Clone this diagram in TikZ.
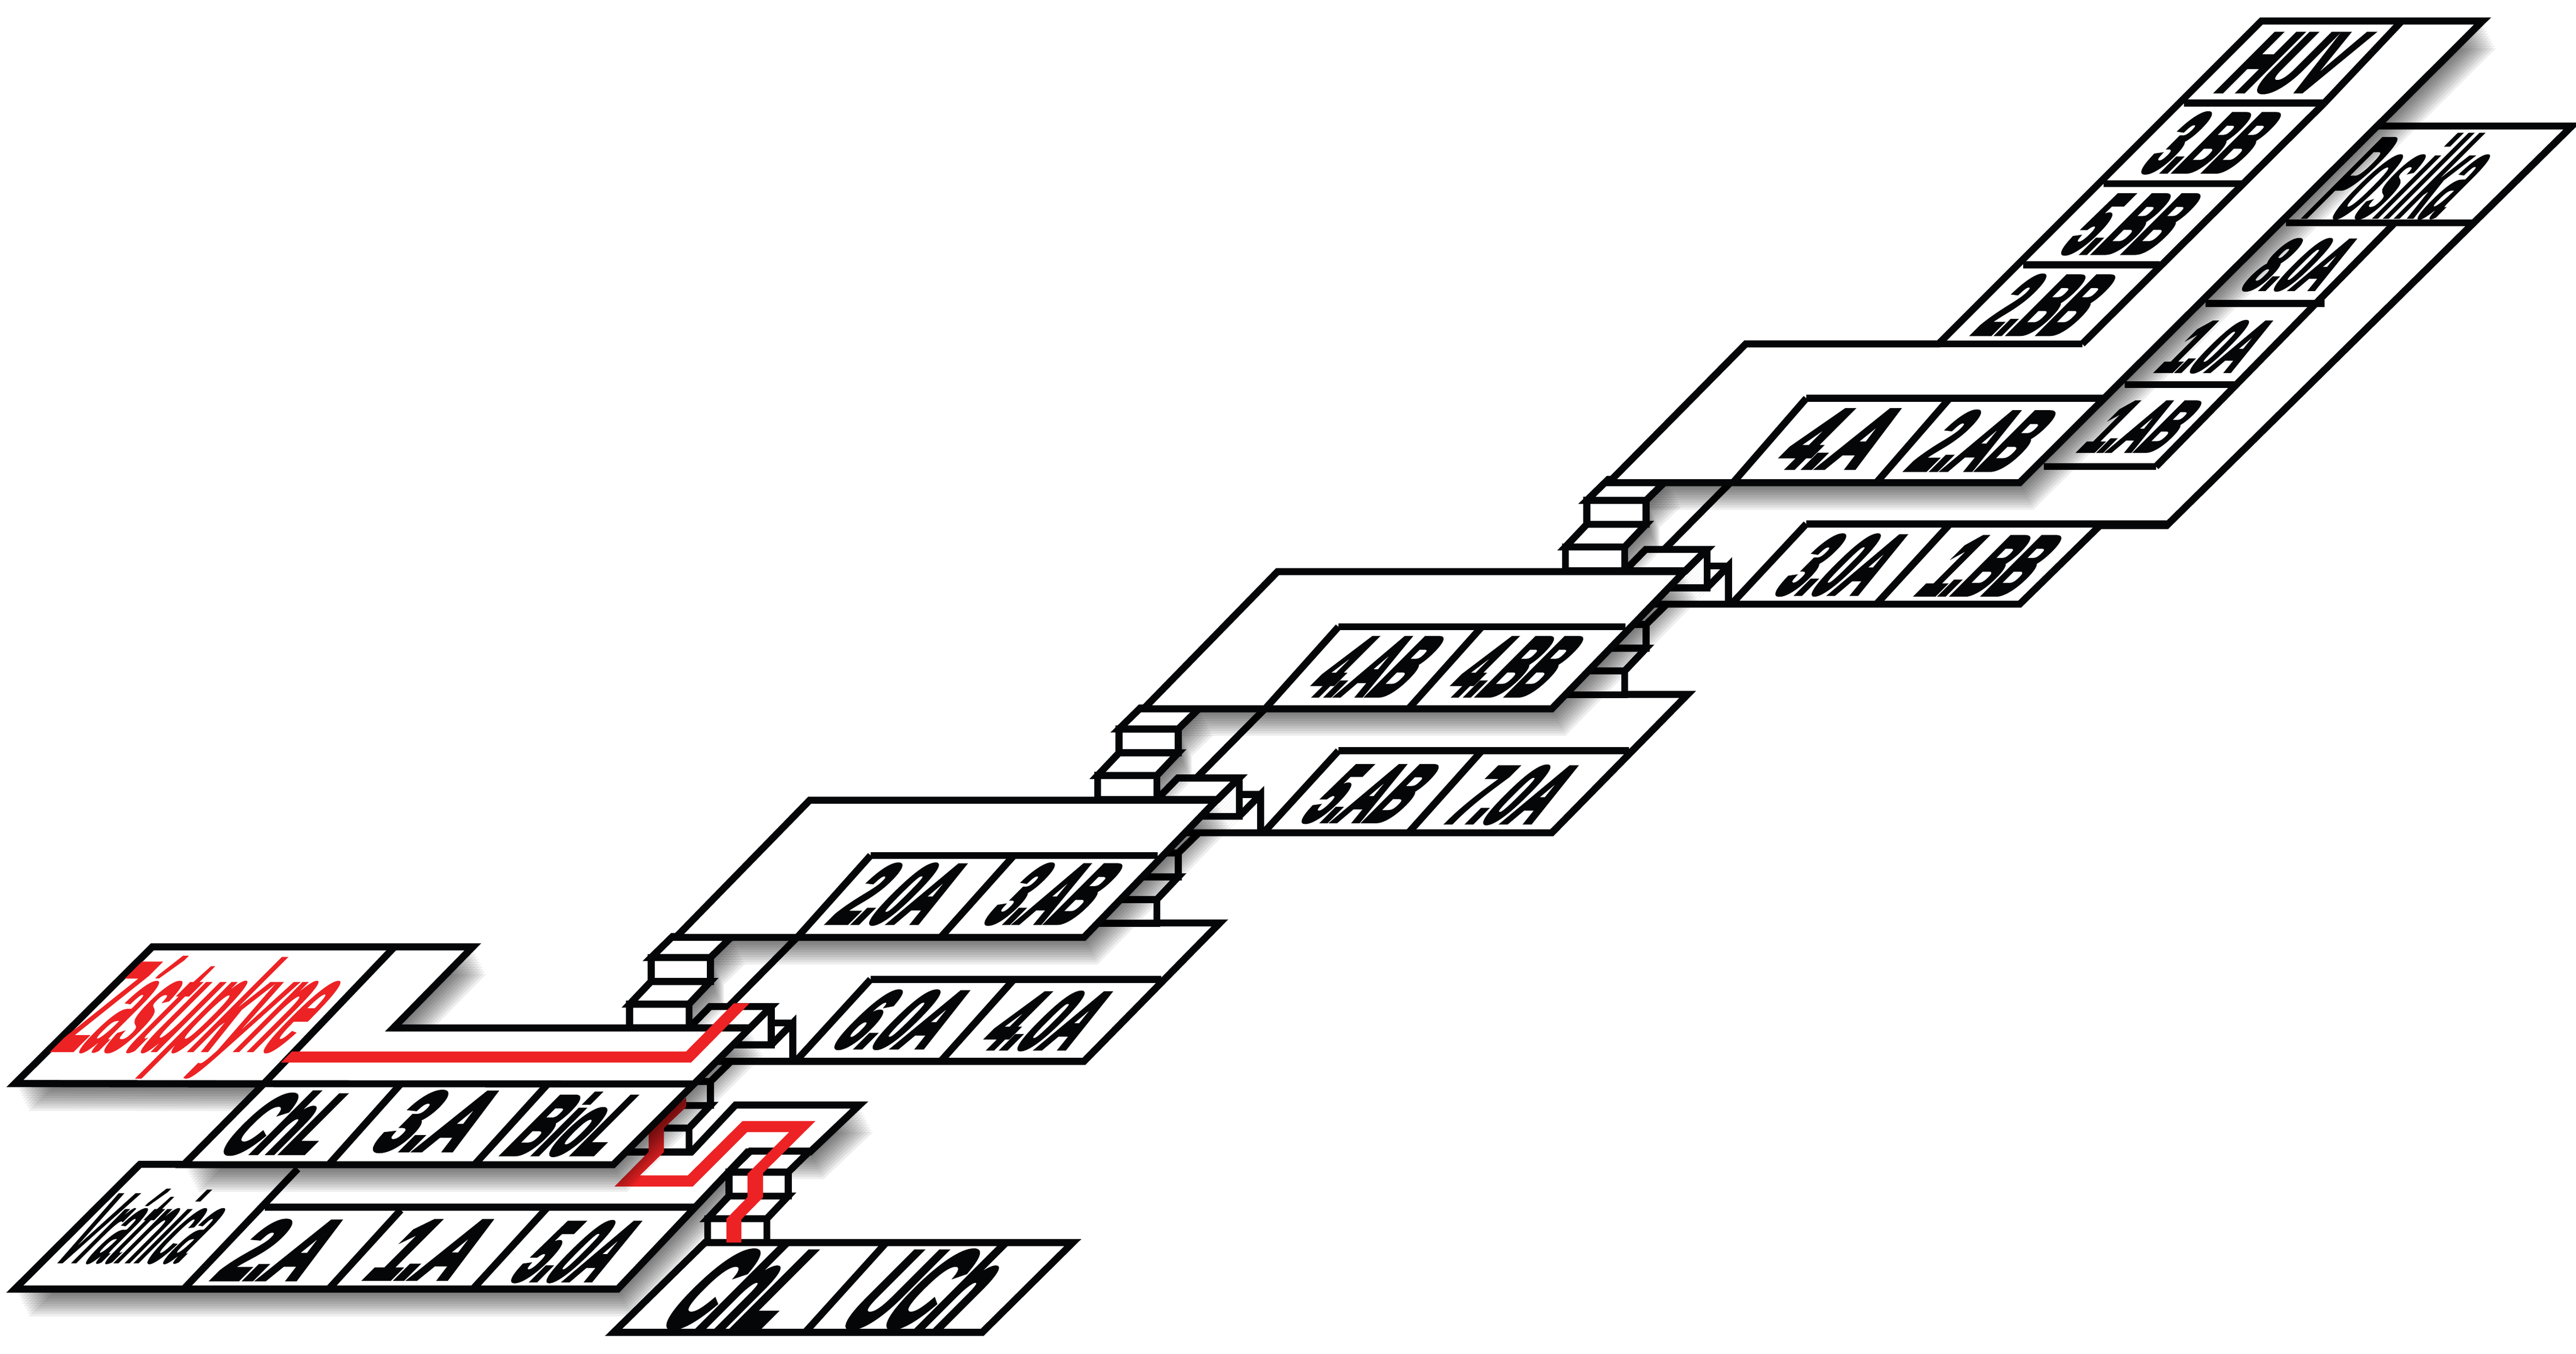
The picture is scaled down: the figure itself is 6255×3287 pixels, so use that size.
\documentclass[tikz,border=0pt]{standalone}
\usepackage{fontspec}
\newfontfamily\lblfont{Liberation Sans}[BoldFeatures={FakeBold=6}]
\newfontfamily\namefont{Liberation Sans}[BoldFeatures={FakeBold=2}]
\definecolor{inkblack}{HTML}{050608}
\definecolor{routered}{HTML}{ED2224}
\tikzset{
  plate/.style={draw=inkblack, fill=white, line width=1.7mm, line join=miter},
  wall/.style={draw=inkblack, line width=1.7mm, line join=miter},
  route/.style={fill=routered},
  roomtxt/.style 2 args={transform shape, xslant=1, xscale=#1, yscale=#2, inner sep=0pt,
    text=inkblack, font=\lblfont\bfseries\fontsize{57}{60}\selectfont},
  nametxt/.style 2 args={roomtxt={#1}{#2}, font=\namefont\bfseries\fontsize{57}{60}\selectfont}
}
% soft shadow under a closed outline
\newcommand{\softshadow}[1]{
  \foreach \s in {6,12,...,66}{
    \fill[black, opacity=.065, shift={(.5*\s,\s)}] #1 -- cycle;
  }
}
% two flights going up to the plate above
\newcommand{\stairup}[2]{
  \begin{scope}[shift={(#1,#2)}]
    \draw[plate] (0,0) rectangle (144,-58);
    \draw[plate] (0,-58) -- (52,-113) -- (196,-113) -- (144,-58) -- cycle;
    \draw[plate] (52,-113) rectangle (196,-171);
    \draw[plate] (52,-171) -- (104,-222) -- (248,-222) -- (196,-171) -- cycle;
  \end{scope}
}
\newcommand{\stairshade}[2]{
  \softshadow{(#1+104,#2-222) -- (#1+248,#2-222) -- (#1+196,#2-171) -- (#1+196,#2-113) -- (#1+144,#2-58) -- (#1+144,#2) -- (#1,#2)}
}
% half level plate, drawn at its lowest place
\newcommand{\lowerplate}{
  \draw[plate] (1769,2444) -- (1970,2241) -- (2962,2241) -- (2632,2577) -- (1700,2577) -- cycle;
  \draw[wall] (2114,2378) -- (2820,2378);
  \draw[wall] (2114,2378) -- (1932,2577);
  \draw[wall] (2462,2378) -- (2284,2577);
}
\newcommand{\sidesteps}{
  \draw[wall] (1873,2444) -- (1873,2537) -- (1784,2537);
  \draw[wall] (1873,2537) -- (1925,2484) -- (1925,2577);
  \draw[wall] (1873,2484) -- (1925,2484);
  \draw[plate] (1673,2496) -- (1724,2444) -- (1873,2444) -- (1821,2496) -- cycle;
}
\newcommand{\upperplate}{
  \draw[plate] (1641,2276) -- (1966,1943) -- (2954,1943) -- (2632,2276) -- cycle;
  \draw[wall] (3009,1889) -- (2954,1943);
  \draw[wall] (2114,2077) -- (2811,2077);
  \draw[wall] (2114,2077) -- (1936,2276);
  \draw[wall] (2462,2077) -- (2284,2276);
}
\begin{document}
\begin{tikzpicture}[x=0.1mm, y=-0.1mm]
  \useasboundingbox (0,0) rectangle (6255,3287);
  \fill[white] (0,0) rectangle (6255,3287);

  % ground plate with the porter's room
  \softshadow{(36,3130) -- (340,2827) -- (1450,2827) -- (1450,2797) -- (1679,2797) -- (1786,2683) -- (2087,2683) -- (1967,2797) -- (1815,2797) -- (1500,3130)}
  \draw[plate] (36,3130) -- (340,2827) -- (1450,2827) -- (1450,2797) -- (1679,2797) -- (1786,2683)
    -- (2087,2683) -- (1967,2797) -- (1815,2797) -- (1500,3130) -- cycle;
  \draw[wall] (643,2931) -- (1688,2931);
  \draw[wall] (723,2838) -- (446,3130);
  \draw[wall] (973,2938) -- (798,3130);
  \draw[wall] (1330,2931) -- (1148,3130);
  \node (vratnica) [nametxt={.4}{1.2}] at (364,2978) {Vrátnica};
  \node (g2a) [roomtxt={.68}{1}] at (688,3035) {2.A};
  \node (g1a) [roomtxt={.68}{1}] at (1054,3035) {1.A};
  \node (g5oa) [roomtxt={.5}{1}] at (1405,3039) {5.0A};

  \stairup{1529}{2797}
  \stairup{1718}{3017}

  % basement plate
  \draw[plate] (1712,3017) -- (2605,3017) -- (2385,3235) -- (1490,3235) -- cycle;
  \draw[wall] (2152,3017) -- (1955,3235);
  \node (bchl) [roomtxt={.68}{1.29}] at (1816,3127) {ChL};
  \node (buch) [roomtxt={.66}{1.29}] at (2259,3127) {UCh};

  % route, lower part
  \fill[route] (1575,2749) -- (1575,2797) -- (1492,2881) -- (1682,2881) -- (1814,2749) -- (1916,2749)
    -- (1815,2850) -- (1815,2907) -- (1764,2959) -- (1764,3017) -- (1800,3017) -- (1800,2961)
    -- (1853,2907) -- (1853,2848) -- (1980,2722) -- (1803,2722) -- (1670,2854) -- (1554,2854)
    -- (1612,2797) -- (1612,2739) -- (1666,2688) -- (1666,2665) -- (1632,2693) -- cycle;

  % first half level
  \lowerplate
  \node (q6oa) [roomtxt={.56}{.96}] at (2195,2476) {6.0A};
  \node (q4oa) [roomtxt={.53}{.96}] at (2546,2479) {4.0A};
  \sidesteps
  \stairshade{1529}{2496}
  \softshadow{(36,2631) -- (370,2299) -- (1148,2299) -- (955,2496) -- (1821,2496) -- (1873,2444) -- (1489,2828) -- (446,2828) -- (640,2632)}

  % plate with the deputy's room
  \draw[plate] (36,2631) -- (370,2299) -- (1148,2299) -- (955,2496) -- (1821,2496) -- (1489,2828) -- (446,2828) -- (640,2632) -- cycle;
  \draw[wall] (1873,2444) -- (1821,2496);
  \draw[wall] (36,2631) -- (1681,2632);
  \draw[wall] (958,2299) -- (640,2632);
  \draw[wall] (973,2632) -- (798,2828);
  \draw[wall] (1330,2632) -- (1152,2828);
  \node (zastupkyne) [nametxt={.5}{1.55}, text=routered] at (482,2470) {Zástupkyne};
  \node (zchl) [roomtxt={.58}{1}] at (705,2727) {ChL};
  \node (z3a) [roomtxt={.68}{1}] at (1066,2723) {3.A};
  \node (zbiol) [roomtxt={.53}{1}] at (1402,2730) {BioL};
  \fill[route] (709,2553) -- (1666,2553) -- (1782,2436) -- (1820,2436) -- (1678,2580) -- (682,2580) -- cycle;

  % second level
  \begin{scope}[shift={(1136,-555)}]
    \stairup{1529}{2797}
    \lowerplate
    \sidesteps
    \stairshade{1529}{2496}
  \end{scope}
  \node (q5ab) [roomtxt={.5}{.96}] at (3329,1928) {5.AB};
  \node (q7oa) [roomtxt={.53}{.96}] at (3677,1930) {7.0A};
  \softshadow{(1641,2276) -- (1966,1943) -- (2954,1943) -- (3009,1889) -- (2632,2276)}
  \stairup{1529}{2496}
  \upperplate
  \node (p2oa) [roomtxt={.54}{1}] at (2189,2171) {2.0A};
  \node (p3ab) [roomtxt={.49}{1}] at (2561,2171) {3.AB};

  % third level with the long wing
  \begin{scope}[shift={(2272,-1110)}]
    \stairup{1529}{2797}
  \end{scope}
  \draw[plate] (4041,1334) -- (4242,1131) -- (4800,1131) -- (5700,306) -- (6245,306) -- (5261,1276)
    -- (5099,1276) -- (4904,1467) -- (3972,1467) -- cycle;
  \draw[wall] (5551,541) -- (6002,541);
  \draw[wall] (5815,541) -- (5235,1133);
  \draw[wall] (5355,737) -- (5644,737);
  \draw[wall] (5159,934) -- (5432,934);
  \draw[wall] (4963,1133) -- (5235,1133);
  \draw[wall] (4386,1272) -- (5261,1272);
  \draw[wall] (4386,1272) -- (4204,1467);
  \draw[wall] (4735,1272) -- (4556,1467);
  \node (posilka) [nametxt={.47}{1.4}] at (5849,428) {Posilka};
  \node (s8oa) [roomtxt={.45}{.85}] at (5588,643) {8.0A};
  \node (s1oa) [roomtxt={.45}{.85}] at (5384,842) {1.0A};
  \node (s1ab) [roomtxt={.44}{.85}] at (5201,1036) {1.AB};
  \node (q3oa) [roomtxt={.51}{1}] at (4477,1372) {3.0A};
  \node (q1bb) [roomtxt={.52}{1}] at (4835,1374) {1.BB};
  \begin{scope}[shift={(2272,-1110)}]
    \sidesteps
    \stairshade{1529}{2496}
  \end{scope}
  \begin{scope}[shift={(1136,-555)}]
    \softshadow{(1641,2276) -- (1966,1943) -- (2954,1943) -- (3009,1889) -- (2632,2276)}
    \stairup{1529}{2496}
    \upperplate
  \end{scope}
  \node (p4ab) [roomtxt={.49}{1}] at (3341,1619) {4.AB};
  \node (p4bb) [roomtxt={.49}{1}] at (3680,1619) {4.BB};

  % top plate
  \softshadow{(3906,1172) -- (4239,835) -- (4707,835) -- (5491,51) -- (6028,51) -- (4904,1172)}
  \begin{scope}[shift={(2272,-1110)}]
    \stairup{1529}{2496}
  \end{scope}
  \draw[plate] (3906,1172) -- (4239,835) -- (4707,835) -- (5491,51) -- (6028,51) -- (4904,1172) -- cycle;
  \draw[wall] (4707,835) -- (5056,835);
  \draw[wall] (5644,250) -- (5056,835);
  \draw[wall] (5832,51) -- (5644,250);
  \draw[wall] (5303,250) -- (5644,250);
  \draw[wall] (5108,446) -- (5448,446);
  \draw[wall] (4912,643) -- (5244,643);
  \draw[wall] (4386,967) -- (5110,967);
  \draw[wall] (4386,967) -- (4208,1172);
  \draw[wall] (4734,967) -- (4556,1172);
  \node (huv) [roomtxt={.59}{1}] at (5568,153) {HUV};
  \node (t3bb) [roomtxt={.5}{1}] at (5372,347) {3.BB};
  \node (t5bb) [roomtxt={.5}{1}] at (5176,545) {5.BB};
  \node (t2bb) [roomtxt={.5}{1}] at (4971,740) {2.BB};
  \node (t4a) [roomtxt={.68}{1}] at (4472,1066) {4.A};
  \node (t2ab) [roomtxt={.54}{1}] at (4818,1070) {2.AB};
\end{tikzpicture}
\end{document}
